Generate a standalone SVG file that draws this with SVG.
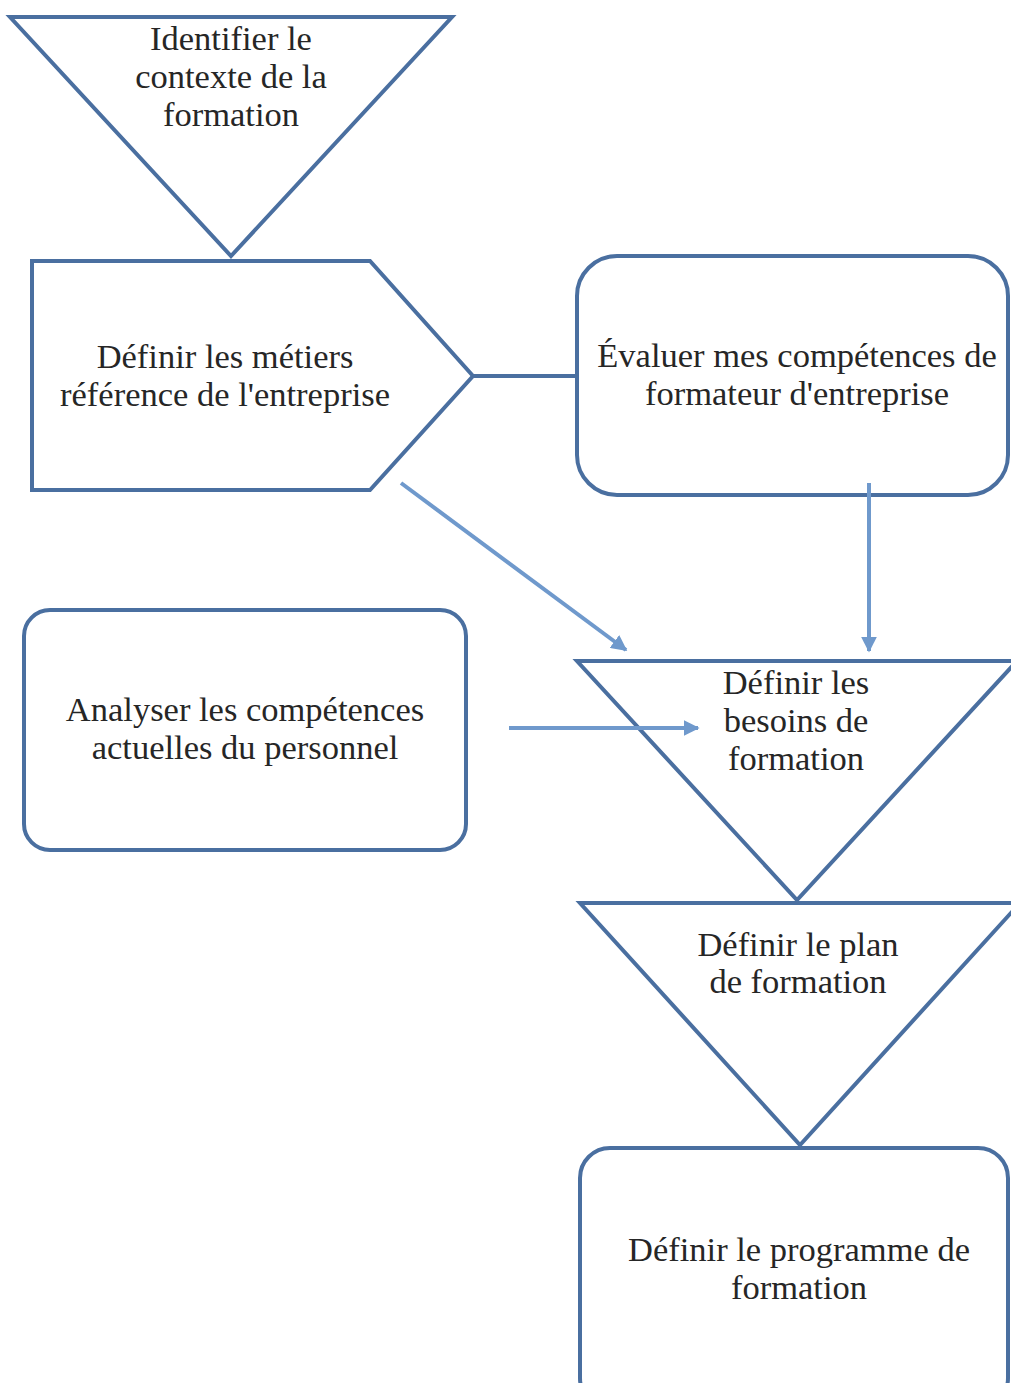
<svg xmlns="http://www.w3.org/2000/svg" width="1011" height="1383" viewBox="0 0 1011 1383">
<style>
.s{fill:#fff;stroke:#4a6fa0;stroke-width:4;stroke-linejoin:miter}
.t{font-family:'Liberation Serif','Times New Roman',serif;font-size:34.5px;fill:#262626;text-anchor:middle}
.c{stroke:#6f99cc;stroke-width:4;fill:none}
</style>
<defs>
<marker id="ah" viewBox="0 0 10 10" refX="9" refY="5" markerWidth="4" markerHeight="4" orient="auto" markerUnits="strokeWidth">
<path d="M0,0 L10,5 L0,10 z" fill="#6f99cc"/>
</marker>
</defs>
<rect width="1011" height="1383" fill="#fff"/>
<g id="n1"><polygon class="s" points="10,17 452,17 231,256"/>
<text class="t" x="231" y="50">Identifier le</text><text class="t" x="231" y="88">contexte de la</text><text class="t" x="231" y="126">formation</text></g>
<g id="n2"><polygon class="s" points="32,261 370,261 473,376 370,490 32,490"/>
<text class="t" x="225" y="368">Définir les métiers</text><text class="t" x="225" y="406">référence de l'entreprise</text></g>
<g id="n3"><rect class="s" x="577" y="256" width="431" height="239" rx="40"/>
<text class="t" x="797" y="367">Évaluer mes compétences de</text><text class="t" x="797" y="405">formateur d'entreprise</text></g>
<g id="n4"><rect class="s" x="24" y="610" width="442" height="240" rx="26"/>
<text class="t" x="245" y="721">Analyser les compétences</text><text class="t" x="245" y="759">actuelles du personnel</text></g>
<g id="n5"><polygon class="s" points="577,661 1017,661 797,900"/>
<text class="t" x="796" y="694">Définir les</text><text class="t" x="796" y="732">besoins de</text><text class="t" x="796" y="770">formation</text></g>
<g id="n6"><polygon class="s" points="580,903 1020,903 800,1145"/>
<text class="t" x="798" y="956">Définir le plan</text><text class="t" x="798" y="993">de formation</text></g>
<g id="n7"><rect class="s" x="580" y="1148" width="428" height="260" rx="30"/>
<text class="t" x="799" y="1261">Définir le programme de</text><text class="t" x="799" y="1299">formation</text></g>
<g id="connectors">
<line x1="473" y1="376" x2="577" y2="376" stroke="#4a6fa0" stroke-width="4"/>
<line class="c" x1="401" y1="483" x2="626" y2="650" marker-end="url(#ah)"/>
<line class="c" x1="869" y1="483" x2="869" y2="651" marker-end="url(#ah)"/>
<line class="c" x1="509" y1="728" x2="698" y2="728" marker-end="url(#ah)"/>
</g>
</svg>
